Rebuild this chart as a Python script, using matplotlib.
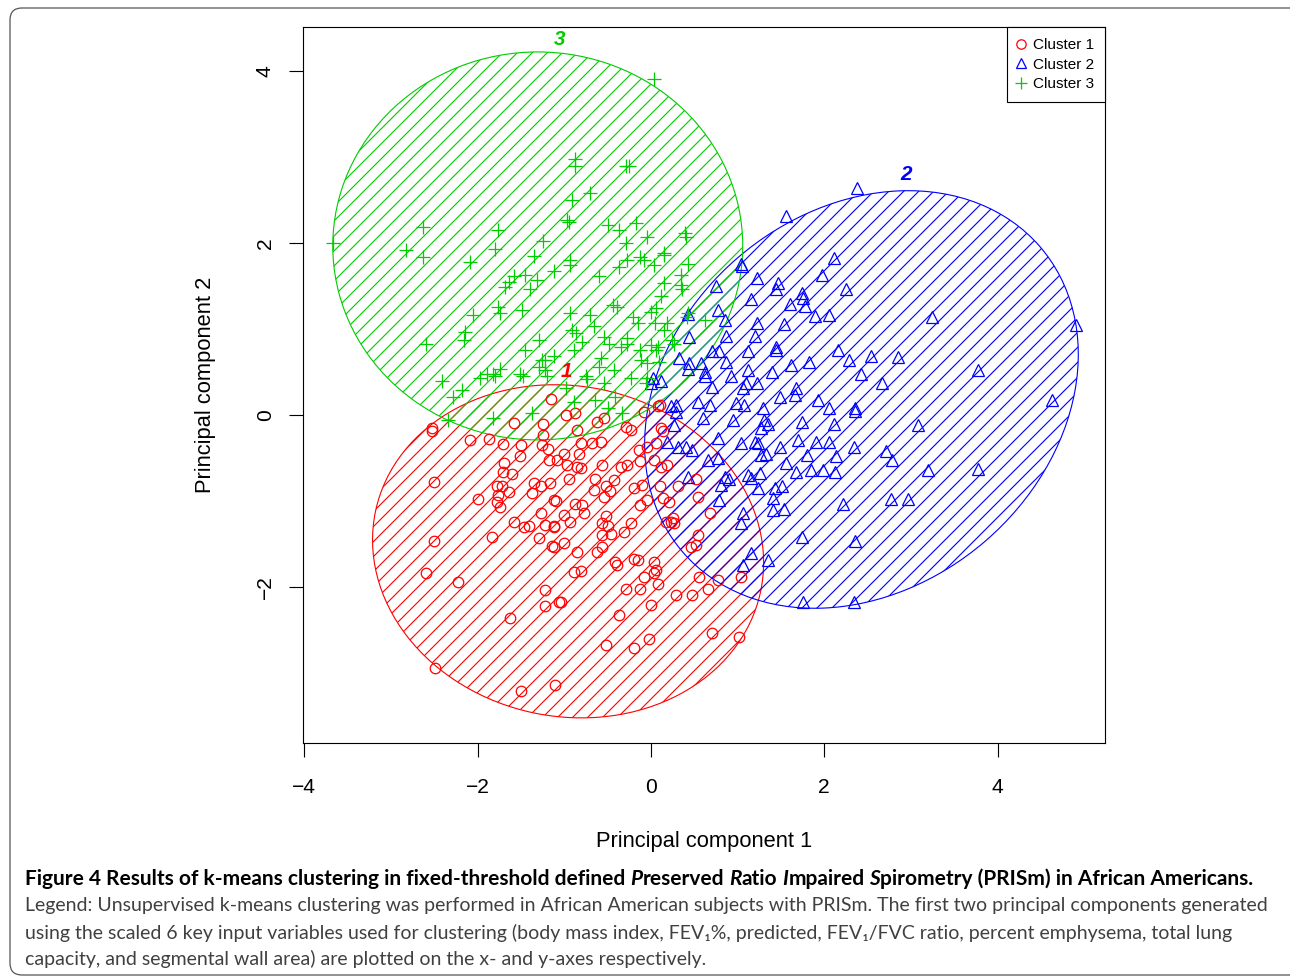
import numpy as np
import matplotlib as mpl
mpl.use('Agg')
import matplotlib.pyplot as plt
from matplotlib.patches import Ellipse, FancyBboxPatch
from matplotlib.lines import Line2D
from matplotlib.transforms import IdentityTransform

W, H, DPI = 1290, 977, 90
plt.rcParams['font.family'] = ['Liberation Sans', 'DejaVu Sans']
plt.rcParams['hatch.linewidth'] = 0.9

# ---- data: principal component scores ----
c1_x = [-2.53, -2.52, -2.09, -1.87, -1.71, -1.58, -1.50, -1.51, -1.69, -1.71, -1.60, -2.50, -1.78, -1.72,
        -1.64, -1.76, -1.77, -1.74, -2.00, -1.35, -1.27, -1.37, -1.16, -1.10, -1.27, -1.58, -1.46, -1.41,
        -1.22, -1.12, -1.29, -1.14, -1.83, -2.50, -2.60, -2.23, -1.22, -1.22, -1.06, -1.63, -2.49, -1.50,
        -1.11, -1.15, -1.24, -1.24, -1.26, -1.19, -1.18,
        -0.98, -0.87, -0.85, -0.62, -0.54, -0.29, -0.23, -0.08, 0.08, 0.12, -0.81, -0.68, -0.58, -1.00,
        -0.83, -1.08, -0.97, -0.85, -0.81, -0.56, -0.35, -0.27, -0.14, -0.12, -0.04, 0.04, 0.12, 0.19,
        -0.95, -0.64, -0.43, -0.52, -0.47, -0.66, -0.19, -0.10, 0.10, 0.31, -1.12, -0.87, -0.79, -0.54,
        -0.12, -0.04, 0.14, 0.21, 0.54, -1.00, -0.93, -0.77, -0.52, -0.56, -0.50, -0.23, -0.31, -0.46,
        -0.56, 0.17, 0.25, 0.27, 0.68, -1.12, -1.12, -1.00, -0.85, -0.62, -0.56, -0.41, -0.39, -0.19,
        -0.15, 0.04, 0.54, 0.46, 0.52, -0.89, -0.81, -0.08, 0.04, 0.08, -0.29, -0.12, 0.56, 0.77, 0.66,
        1.04, -1.04, 0.00, 0.29, 0.48, -0.37, 0.70, 1.02, -0.02, -0.19, -0.52,
        0.10, 0.14, 0.06, 0.52, 0.06, 0.23]
c1_y = [-0.15, -0.19, -0.29, -0.28, -0.34, -0.09, -0.35, -0.48, -0.56, -0.66, -0.69, -0.78, -0.83, -0.83,
        -0.89, -0.93, -1.01, -1.07, -0.98, -0.79, -0.83, -0.91, -0.79, -1.00, -1.14, -1.24, -1.30, -1.29,
        -1.28, -1.29, -1.43, -1.52, -1.42, -1.47, -1.84, -1.94, -2.03, -2.22, -2.18, -2.36, -2.94, -3.21,
        -3.14, 0.18, -0.10, -0.23, -0.35, -0.39, -0.52,
        0.00, 0.02, -0.17, -0.08, -0.04, -0.14, -0.17, 0.04, 0.10, -0.15, -0.33, -0.33, -0.31, -0.45,
        -0.45, -0.52, -0.58, -0.60, -0.62, -0.58, -0.60, -0.58, -0.41, -0.54, -0.37, -0.52, -0.60, -0.58,
        -0.74, -0.74, -0.76, -0.83, -0.88, -0.87, -0.85, -0.81, -0.83, -0.83, -0.99, -1.03, -1.05, -0.95,
        -1.05, -0.99, -0.97, -1.01, -0.95, -1.16, -1.24, -1.14, -1.18, -1.26, -1.29, -1.26, -1.36, -1.38,
        -1.40, -1.24, -1.20, -1.26, -1.14, -1.30, -1.53, -1.49, -1.59, -1.59, -1.53, -1.71, -1.74, -1.67,
        -1.69, -1.71, -1.40, -1.53, -1.51, -1.82, -1.81, -1.88, -1.84, -1.96, -2.02, -2.02, -1.88, -1.92, -2.02,
        -1.88, -2.17, -2.21, -2.09, -2.09, -2.33, -2.54, -2.58, -2.60, -2.71, -2.67,
        0.12, -0.19, -0.33, -0.74, -1.80, -1.24]

c2_x = [1.56, 2.11, 1.98, 1.04, 1.05, 1.22, 1.47, 1.44, 0.75, 1.16, 1.74, 1.76, 1.61, 1.78, 2.25, 1.89,
        2.05, 0.78, 0.85, 0.43, 1.22, 1.54, 0.87, 1.20, 0.44, 1.44, 1.44, 1.12, 2.16, 2.29, 0.70, 0.79,
        0.33, 0.87, 0.44, 0.43, 0.58, 0.62, 0.63, 0.70, 1.12, 1.40, 1.62, 1.82, 0.93, 1.10, 1.22, 1.06,
        1.68, 0.02, 0.12, 0.00,
        0.29, 0.54, 0.68, 0.98, 1.07, 1.29, 1.49, 1.66, 1.93, 2.05, 0.60, 0.95, 1.31, 1.35, 1.74, 2.11,
        1.27, 0.27, 0.19, 0.31, 0.48, 0.77, 1.04, 1.20, 1.24, 1.49, 1.70, 1.91, 2.05, 1.27, 1.33, 1.80,
        2.14, 0.66, 0.78, 1.56, 1.68, 1.85, 1.99, 2.12, 0.43, 0.85, 0.90, 0.81, 1.12, 1.26, 1.16, 1.24,
        1.51, 1.43, 1.41, 0.79, 1.54, 1.41, 2.22, 1.06, 1.04, 1.74, 1.16, 1.35, 1.06, 1.76,
        2.38, 3.24, 4.91, 3.77, 4.63, 2.54, 2.85, 2.43, 2.67, 2.36, 2.35, 3.08, 2.34, 2.71, 2.78, 3.20,
        3.78, 2.77, 2.97, 2.36, 2.34, 0.23, 0.41, 0.29]
c2_y = [2.31, 1.83, 1.63, 1.76, 1.73, 1.59, 1.53, 1.47, 1.50, 1.35, 1.42, 1.36, 1.29, 1.27, 1.47, 1.15,
        1.16, 1.22, 1.10, 1.17, 1.07, 1.06, 0.92, 0.92, 0.91, 0.79, 0.76, 0.74, 0.76, 0.64, 0.74, 0.74,
        0.66, 0.62, 0.60, 0.54, 0.60, 0.50, 0.45, 0.33, 0.52, 0.50, 0.58, 0.62, 0.45, 0.37, 0.37, 0.31,
        0.31, 0.43, 0.39, 0.37,
        0.12, 0.15, 0.12, 0.14, 0.12, 0.08, 0.21, 0.23, 0.17, 0.08, -0.04, -0.06, -0.06, -0.10, -0.08, -0.10,
        -0.15, -0.12, -0.31, -0.37, -0.41, -0.27, -0.33, -0.31, -0.33, -0.37, -0.29, -0.31, -0.31, -0.47,
        -0.45, -0.47, -0.48, -0.52, -0.50, -0.56, -0.66, -0.64, -0.64, -0.66, -0.72, -0.72, -0.75, -0.81,
        -0.70, -0.68, -0.73, -0.85, -0.83, -0.85, -0.97, -0.99, -1.09, -1.10, -1.03, -1.14, -1.26, -1.42,
        -1.61, -1.69, -1.74, -2.17,
        2.64, 1.14, 1.05, 0.52, 0.17, 0.69, 0.67, 0.48, 0.37, 0.08, 0.05, -0.12, -0.37, -0.42, -0.52, -0.64,
        -0.63, -0.98, -0.98, -1.47, -2.17, 0.10, -0.37, 0.04]

c3_x = [-3.67, -2.63, -2.82, -2.63, -1.76, -1.80, -2.09, -1.24, -1.35, -1.58, -1.45, -1.31, -1.68, -1.39,
        -1.64, -1.76, -1.74, -1.49, -2.05, -2.14, -2.16, -2.59, -1.29, -1.45, -1.26, -1.29, -1.20, -1.51,
        -1.47, -1.74, -1.82, -1.89, -1.97, -1.80, -2.41, -2.18, -2.28, -2.34, -1.82, -1.37,
        0.04, -0.87, -0.87, -0.29, -0.25, -0.70, -0.91, -0.97, -0.95, -0.50, -0.37, -0.17, -0.04, 0.39,
        0.40, 0.43, 0.35, -0.93, -0.93, -1.12, -0.60, -0.29, -0.27, -0.37, -0.12, -0.08, 0.04, 0.15, 0.15,
        0.12, 0.06, 0.35, -0.44, -0.39, -0.93, -0.70, -0.21, -0.15, -0.66, -0.91, -0.86, -0.79, -0.54,
        -0.48, -0.27, -0.28, -0.35, 0.00, 0.08, 0.06, -0.12, 0.43, 0.62, 0.19, 0.27, -0.89, -1.12, -1.22,
        -1.22, -0.58, -0.60, -0.43, -0.23, -0.04, -0.06, -0.75, -0.74, -0.98, -0.54, -0.64, -0.89, -0.50,
        -0.33, -0.41,
        0.36, 0.00, 0.05, 0.42, 0.15, 0.24, 0.09, -0.11, -0.05, 0.15]
c3_y = [2.00, 2.19, 1.92, 1.84, 2.15, 1.93, 1.78, 2.02, 1.85, 1.61, 1.63, 1.57, 1.49, 1.47,
        1.55, 1.26, 1.19, 1.22, 1.16, 0.97, 0.87, 0.83, 0.87, 0.76, 0.64, 0.56, 0.45, 0.48,
        0.45, 0.54, 0.48, 0.48, 0.43, 0.45, 0.39, 0.29, 0.21, -0.06, -0.04, 0.02,
        3.90, 2.98, 2.89, 2.89, 2.89, 2.58, 2.50, 2.27, 2.24, 2.21, 2.15, 2.23, 2.07, 2.11,
        2.07, 1.76, 1.63, 1.80, 1.74, 1.67, 1.61, 2.00, 1.80, 1.72, 1.84, 1.80, 1.74, 1.88, 1.53,
        1.38, 1.24, 1.51, 1.28, 1.26, 1.18, 1.16, 1.14, 1.07, 1.03, 0.99, 0.95, 0.85, 0.91,
        0.83, 0.89, 0.82, 0.79, 0.81, 0.79, 0.76, 0.76, 1.18, 1.10, 1.07, 0.83, 0.76, 0.68, 0.64,
        0.52, 0.66, 0.56, 0.52, 0.43, 0.60, 0.37, 0.45, 0.42, 0.31, 0.37, 0.17, 0.15, 0.08,
        0.02, 0.21,
        1.47, 1.20, 1.07, 1.14, 0.99, 0.87, 0.62, 0.64, 0.43, 1.86]

# cluster ellipses (centre, full width, full height, angle in degrees)
ell_cx = [-0.955, 2.43, -1.305]
ell_cy = [-1.585, 0.18, 1.965]
ell_w = [4.54, 5.44, 4.73]
ell_h = [3.84, 4.36, 4.51]
ell_ang = [-12, 41, 0]
lab_x = [-0.97, 2.94, -1.05]
lab_y = [0.50, 2.80, 4.37]
names = ['Cluster 1', 'Cluster 2', 'Cluster 3']
colors = ['#FF0000', '#0000FF', '#00CD00']

title_runs = [("Figure 4 Results of k-means clustering in fixed-threshold defined", 'normal', True),
              ("P", 'italic', False), ("reserved", 'normal', True),
              ("R", 'italic', False), ("atio", 'normal', True),
              ("I", 'italic', False), ("mpaired", 'normal', True),
              ("S", 'italic', False), ("pirometry (PRISm) in African Americans.", 'normal', False)]
legend_lines = [
    "Legend: Unsupervised k-means clustering was performed in African American subjects with PRISm. "
    "The first two principal components generated",
    "using the scaled 6 key input variables used for clustering (body mass index, FEV\u2081%, predicted, "
    "FEV\u2081/FVC ratio, percent emphysema, total lung",
    "capacity, and segmental wall area) are plotted on the x- and y-axes respectively."]

fig = plt.figure(figsize=(W / DPI, H / DPI), dpi=DPI)
fig.patch.set_facecolor('white')

# rounded outer frame
frame = FancyBboxPatch((10, 2), 1330, 967, boxstyle='round,pad=0,rounding_size=12',
                       fill=False, edgecolor='#555555', linewidth=1.0, transform=IdentityTransform())
fig.add_artist(frame)

ax = fig.add_axes([303.3 / W, 1 - 742.7 / H, (1105 - 303.3) / W, (742.7 - 27) / H])
ax.plot(c1_x, c1_y, ls='none', marker='o', ms=8.4, mfc='none', mec=colors[0], mew=1.0)
ax.plot(c2_x, c2_y, ls='none', marker='^', ms=10, mfc='none', mec=colors[1], mew=1.0)
ax.plot(c3_x, c3_y, ls='none', marker='+', ms=11, mec=colors[2], mew=1.0)

for i in range(3):
    e = Ellipse((ell_cx[i], ell_cy[i]), ell_w[i], ell_h[i], angle=ell_ang[i],
                fill=False, edgecolor=colors[i], hatch='//', linewidth=0.9)
    ax.add_patch(e)
    ax.text(lab_x[i], lab_y[i], str(i + 1), color=colors[i], fontsize=16.5,
            fontweight='bold', fontstyle='italic', ha='center', va='center')

ax.set_xlim(-4.01, 5.24)
ax.set_ylim(-3.81, 4.51)
ax.set_xticks([-4, -2, 0, 2, 4])
ax.set_yticks([-2, 0, 2, 4])
for s in ax.spines.values():
    s.set_linewidth(0.9)
ax.tick_params(direction='out', length=11.2, width=0.9, labelsize=16.8)
ax.tick_params(axis='x', pad=17)
ax.tick_params(axis='y', pad=11.5)
for lb in ax.get_yticklabels():
    lb.set_rotation(90)
    lb.set_va('center')
ax.set_xlabel('Principal component 1', fontsize=17.5)
ax.set_ylabel('Principal component 2', fontsize=17.5)
ax.xaxis.label.set_va('center')
ax.yaxis.label.set_va('center')
ax.xaxis.set_label_coords(0.5, -(842 - 742.7) / 715.7)
ax.yaxis.set_label_coords(-(303.3 - 205) / 801.7, 0.5)

handles = [Line2D([], [], ls='none', marker='o', ms=7.5, mfc='none', mec=colors[0], mew=1.0),
           Line2D([], [], ls='none', marker='^', ms=8.5, mfc='none', mec=colors[1], mew=1.0),
           Line2D([], [], ls='none', marker='+', ms=10, mec=colors[2], mew=1.0)]
leg = ax.legend(handles, names, loc='upper right', fontsize=12.2, borderaxespad=0,
                fancybox=False, edgecolor='black', framealpha=1, handlelength=0.4,
                handletextpad=0.6, labelspacing=0.37, borderpad=0.72)
leg.get_frame().set_linewidth(0.9)

# caption below the plot
renderer = fig.canvas.get_renderer()
CAP = ['Lato', 'DejaVu Sans']


def space_width(size, weight):
    a = fig.text(0, 0, 'a a', fontsize=size, family=CAP, fontweight=weight)
    b = fig.text(0, 0, 'aa', fontsize=size, family=CAP, fontweight=weight)
    w = a.get_window_extent(renderer).width - b.get_window_extent(renderer).width
    a.remove()
    b.remove()
    return w


def draw_runs(x0, y, runs, size, weight, color):
    x = x0
    sp = space_width(size, weight)
    arts = []
    for txt, style, gap in runs:
        t = fig.text(x / W, 1 - y / H, txt, fontsize=size, family=CAP, fontweight=weight,
                     fontstyle=style, color=color, va='center', ha='left')
        arts.append(t)
        x += t.get_window_extent(renderer).width + (sp if gap else 0)
    return arts, x - x0


arts, w = draw_runs(25, 879, title_runs, 14, 'bold', 'black')
for a in arts:
    a.remove()
tsize = 14 * 1230 / w
draw_runs(25, 879, title_runs, tsize, 'bold', 'black')

probe = fig.text(0, 0, legend_lines[0], fontsize=14, family=CAP)
lsize = 14 * 1247 / probe.get_window_extent(renderer).width
probe.remove()
for k, line in enumerate(legend_lines):
    fig.text(25 / W, 1 - (906 + 26.5 * k) / H, line, fontsize=lsize, family=CAP,
             color='#404040', va='center', ha='left')

fig.savefig('out.png', dpi=DPI)
